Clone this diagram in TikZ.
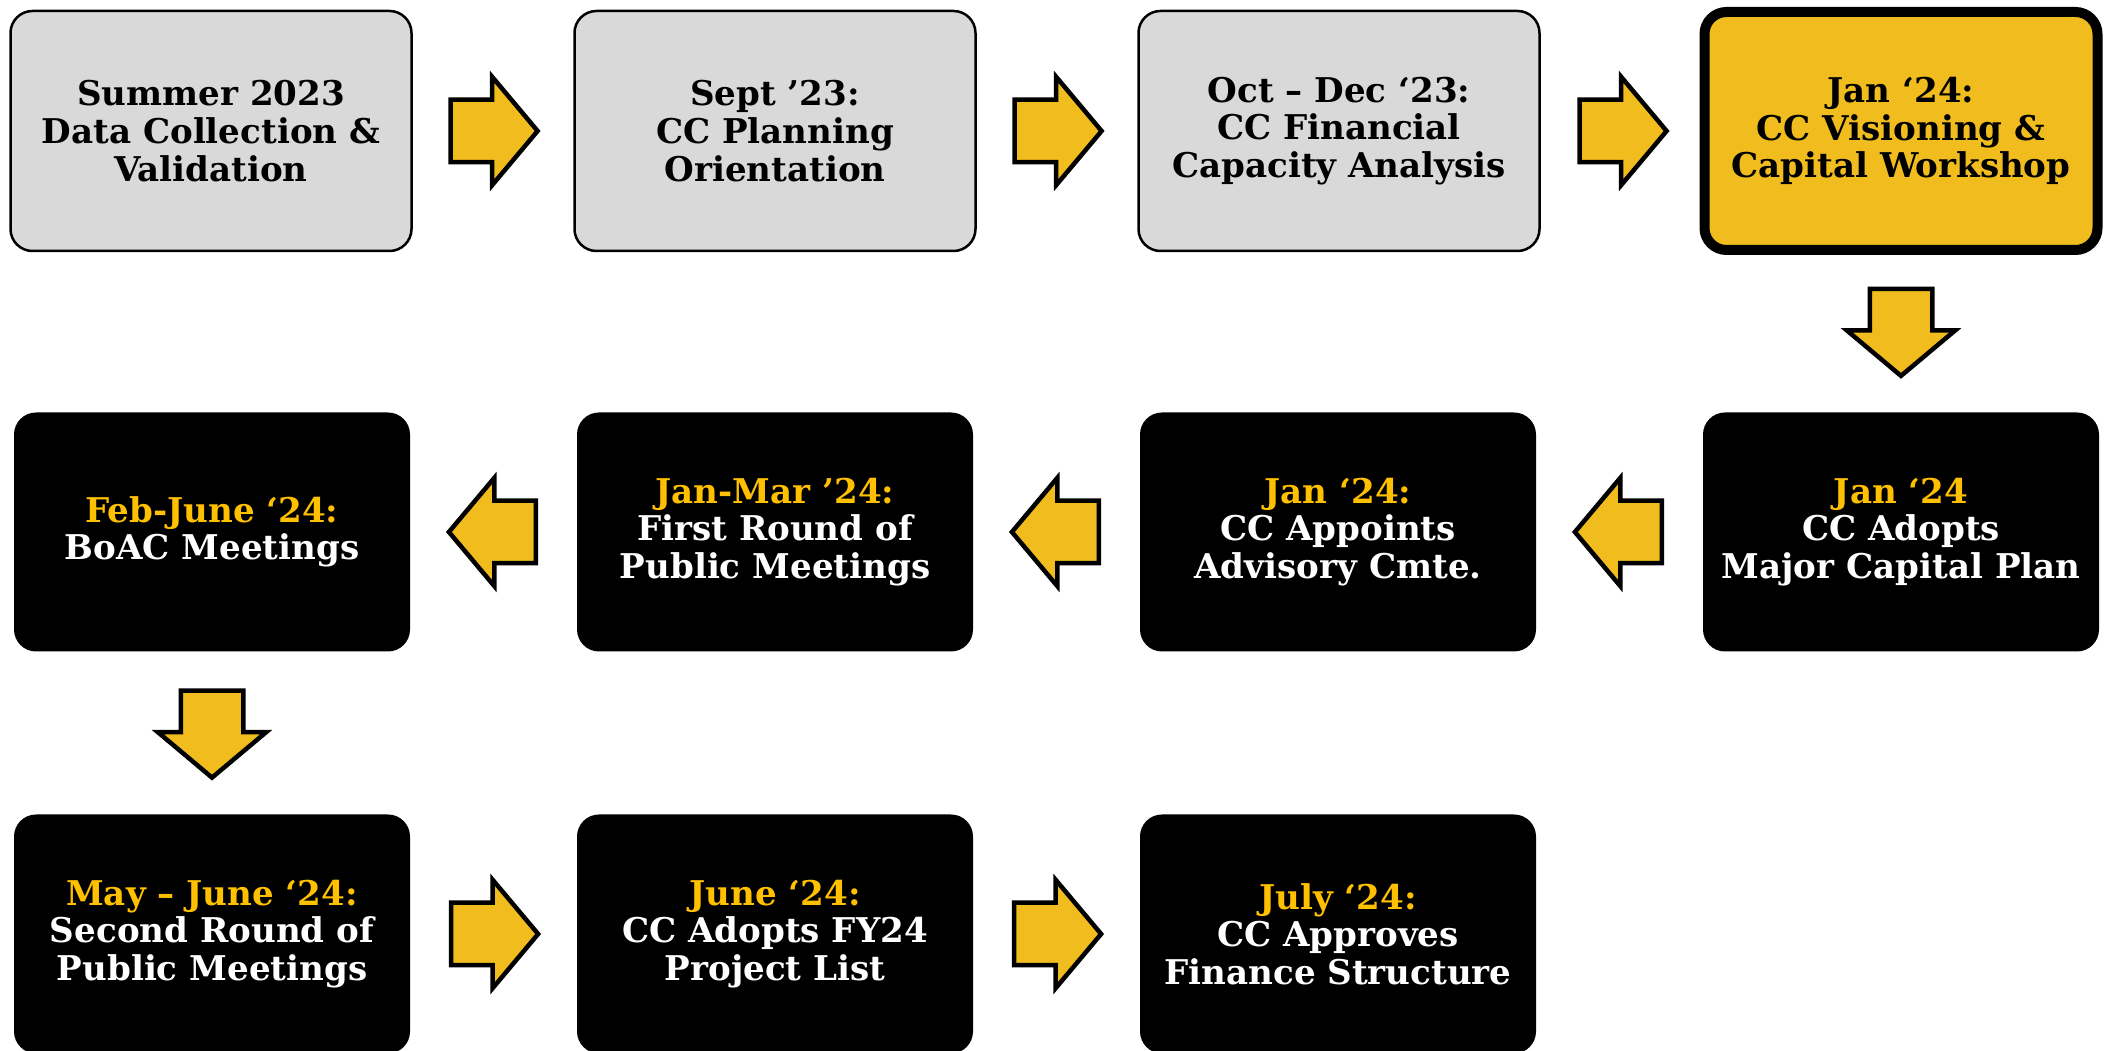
\documentclass[tikz,border=0pt]{standalone}
\usepackage{fontspec}
\setmainfont{DejaVu Serif}
\usetikzlibrary{shapes.arrows, positioning, calc}

\definecolor{boxgrey}{HTML}{D9D9D9}
\definecolor{gold}{HTML}{F0BC1E}
\definecolor{goldtext}{HTML}{FFC000}
\newcommand{\when}[1]{\textcolor{goldtext}{#1}}

\begin{document}
\begin{tikzpicture}[x=0.1mm,y=0.1mm,node distance=16.3mm and 16.7mm,
    stage box/.style={rectangle,rounded corners=2.2mm,minimum width=40.1mm,minimum height=24mm,
        align=center,inner sep=0pt,outer sep=0pt,font=\fontsize{9.7}{10.7}\selectfont\bfseries},
    grey box/.style={stage box,draw=black,line width=0.25mm,fill=boxgrey},
    now box/.style={stage box,draw=black,line width=1mm,fill=gold,minimum width=39.3mm,minimum height=23.8mm},
    dark box/.style={stage box,fill=black,text=white,minimum width=39.6mm,minimum height=23.9mm},
    flow arrow/.style={single arrow,draw=black,line width=0.45mm,fill=gold,minimum height=8.7mm,
        inner xsep=0pt,inner ysep=2.9mm,single arrow head extend=2.3mm,single arrow tip angle=100},
    right arrow/.style={flow arrow,xshift=-1.2mm},
    left arrow/.style={flow arrow,shape border rotate=180,xshift=1.2mm},
    down arrow/.style={flow arrow,shape border rotate=270,inner xsep=2.9mm,inner ysep=0pt,yshift=1.2mm}]

    \useasboundingbox (0,0) rectangle (2105,-1051);

    % first row, left to right
    \node[grey box] (summer) at (211,-131) {Summer 2023\\Data Collection \&\\Validation};
    \node[grey box] (sept) [right=16.3mm of summer] {Sept ’23:\\CC Planning\\Orientation};
    \node[grey box] (octdec) [right=16.3mm of sept] {Oct – Dec ‘23:\\CC Financial\\Capacity Analysis};
    \node[now box] (workshop) [right=16.5mm of octdec] {Jan ‘24:\\CC Visioning \&\\Capital Workshop};

    % second row, right to left
    \node[dark box] (adopts) at (1901,-532) {\when{Jan ‘24}\\CC Adopts\\Major Capital Plan};
    \node[dark box] (appoints) [left=of adopts] {\when{Jan ‘24:}\\CC Appoints\\Advisory Cmte.};
    \node[dark box] (firstround) [left=of appoints] {\when{Jan-Mar ’24:}\\First Round of\\Public Meetings};
    \node[dark box] (boac) [left=of firstround] {\when{Feb-June ‘24:}\\BoAC Meetings};

    % third row
    \node[dark box] (secondround) [below=of boac] {\when{May – June ‘24:}\\Second Round of\\Public Meetings};
    \node[dark box] (fy24) [right=of secondround] {\when{June ‘24:}\\CC Adopts FY24\\Project List};
    \node[dark box] (finance) [right=of fy24] {\when{July ‘24:}\\CC Approves\\Finance Structure};

    % block arrows
    \node[right arrow] (a1) at ($(summer.east)!0.5!(sept.west)$) {};
    \node[right arrow] (a2) at ($(sept.east)!0.5!(octdec.west)$) {};
    \node[right arrow] (a3) at ($(octdec.east)!0.5!(workshop.west)$) {};
    \node[down arrow] (a4) at ($(workshop.south)!0.5!(adopts.north)$) {};
    \node[left arrow] (a5) at ($(adopts.west)!0.5!(appoints.east)$) {};
    \node[left arrow] (a6) at ($(appoints.west)!0.5!(firstround.east)$) {};
    \node[left arrow] (a7) at ($(firstround.west)!0.5!(boac.east)$) {};
    \node[down arrow] (a8) at ($(boac.south)!0.5!(secondround.north)$) {};
    \node[right arrow] (a9) at ($(secondround.east)!0.5!(fy24.west)$) {};
    \node[right arrow] (a10) at ($(fy24.east)!0.5!(finance.west)$) {};
\end{tikzpicture}
\end{document}
